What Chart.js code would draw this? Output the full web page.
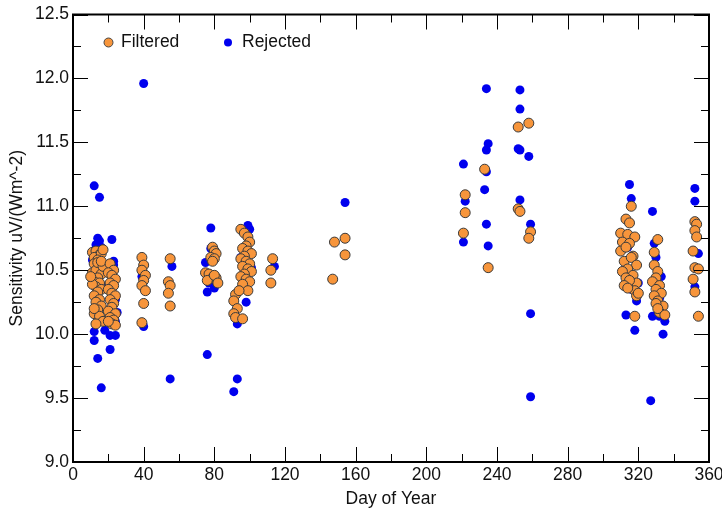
<!DOCTYPE html>
<html>
<head>
<meta charset="utf-8">
<script src="https://cdn.jsdelivr.net/npm/chart.js@4/dist/chart.umd.min.js"></script>
<style>
html,body{margin:0;padding:0;background:#fff;}
#wrap{width:722px;height:513px;position:relative;}
</style>
</head>
<body>
<div id="wrap"><canvas id="c" width="722" height="513"></canvas></div>
<script>
// ---- data ----
const xTicks = [0, 40, 80, 120, 160, 200, 240, 280, 320, 360];
const yTicks = [9.0, 9.5, 10.0, 10.5, 11.0, 11.5, 12.0, 12.5];
const seriesNames = ["Filtered", "Rejected"];

const filteredDays = [
  11,13,15,12,16,14,17,12,15,11,13,16,14,12,15,13,11,16,14,12,15,13,16,14,12,15,17,13,14,17,10,16,12,
  21,23,20,22,24,21,23,20,22,24,21,23,22,20,24,21,23,22,24,20,
  39,40,39,41,40,39,41,40,39,
  55,54,55,54,55,
  79,80,81,78,80,79,75,77,79,81,76,80,82,
  95,97,99,100,98,96,99,101,97,95,98,100,96,99,101,97,95,98,100,96,
  92,91,93,91,92,96,99,94,
  113,112,112,
  148,147,154,154,
  222,222,221,233,235,252,258,252,253,259,258,
  316,313,315,310,314,318,311,315,310,313,317,312,316,319,314,311,317,313,319,315,312,318,314,319,318,320,
  331,329,329,331,330,328,332,330,333,329,331,334,330,332,335,331,
  352,353,352,353,351,352,354,351,352,354
];
const filteredValues = [
  10.64,10.65,10.62,10.60,10.63,10.58,10.66,10.55,10.52,10.48,10.50,10.47,10.44,10.41,10.40,10.37,10.39,10.35,10.33,10.30,10.27,10.25,10.22,10.19,10.16,10.14,10.10,10.08,10.56,10.53,10.45,10.57,10.20,
  10.55,10.50,10.48,10.46,10.43,10.40,10.38,10.35,10.32,10.30,10.27,10.24,10.21,10.18,10.16,10.13,10.11,10.08,10.07,10.10,
  10.60,10.54,10.50,10.46,10.42,10.38,10.34,10.24,10.09,
  10.59,10.41,10.38,10.32,10.22,
  10.68,10.65,10.63,10.60,10.59,10.57,10.48,10.47,10.44,10.44,10.42,10.46,10.40,
  10.82,10.79,10.76,10.72,10.69,10.67,10.65,10.63,10.61,10.59,10.57,10.55,10.53,10.51,10.49,10.47,10.45,10.43,10.41,10.39,
  10.31,10.26,10.20,10.16,10.13,10.12,10.34,10.34,
  10.59,10.50,10.40,
  10.72,10.43,10.75,10.62,
  11.09,10.95,10.79,11.29,10.52,11.62,11.65,10.98,10.96,10.80,10.75,
  11.00,10.90,10.87,10.79,10.78,10.76,10.72,10.71,10.65,10.68,10.61,10.57,10.60,10.54,10.51,10.49,10.46,10.44,10.40,10.42,10.38,10.34,10.36,10.30,10.14,10.32,
  10.74,10.64,10.54,10.49,10.44,10.41,10.38,10.35,10.32,10.30,10.26,10.22,10.24,10.17,10.15,10.20,
  10.88,10.86,10.81,10.76,10.65,10.52,10.51,10.43,10.33,10.14
];

const rejectedDays = [
  12,15,14,15,22,23,23,12,12,21,24,21,14,16,13,16,11,18,13,24,25,24,18,11,
  40,40,39,
  56,55,
  78,76,80,75,76,78,77,
  99,100,98,93,93,91,95,101,
  114,
  154,154,
  234,253,253,235,234,252,253,258,221,234,233,222,253,234,259,221,235,259,259,
  315,316,328,313,329,319,313,318,328,332,335,334,327,314,312,320,316,330,333,332,
  352,352,354,352
];
const rejectedValues = [
  11.16,11.07,10.75,10.73,10.74,10.57,10.54,10.02,9.95,9.99,9.99,9.88,9.81,9.58,10.70,10.68,10.58,10.36,10.28,10.27,10.17,10.10,10.03,10.40,
  11.96,10.06,10.45,
  10.53,9.65,
  10.83,10.33,10.36,10.56,9.84,10.67,10.40,
  10.85,10.82,10.25,10.08,9.65,9.55,10.60,10.52,
  10.53,
  11.03,10.75,
  11.92,11.91,11.76,11.49,11.44,11.45,11.44,11.39,11.33,11.27,11.13,11.04,11.05,10.86,10.86,10.72,10.69,10.16,9.51,
  11.17,11.06,10.96,10.74,10.71,10.26,10.15,10.03,10.14,10.14,10.10,10.00,9.48,10.68,10.50,10.40,10.35,10.60,10.45,10.28,
  11.14,11.04,10.63,10.37
];

const ORANGE = '#F7953B';
const BLUE = '#0000EE';
const FONT = "'Liberation Sans', Arial, sans-serif";
const FS = 17.5;

function toPoints(xs, ys) { return xs.map((x, i) => ({x: x, y: ys[i]})); }

// inward ticks, frame and legend
const framePlugin = {
  id: 'frame',
  afterDraw(chart) {
    const {ctx, chartArea: a, scales: {x, y}} = chart;
    ctx.save();
    ctx.strokeStyle = '#000';
    ctx.lineWidth = 1;
    for (let v = 0; v <= 360; v += 20) {
      const px = Math.round(x.getPixelForValue(v)) + 0.5;
      const len = (v % 40 === 0) ? 15 : 8;
      ctx.beginPath();
      ctx.moveTo(px, a.bottom); ctx.lineTo(px, a.bottom - len);
      ctx.moveTo(px, a.top); ctx.lineTo(px, a.top + len);
      ctx.stroke();
    }
    for (let k = 0; k <= 14; k++) {
      const v = 9 + k * 0.25;
      const py = Math.round(y.getPixelForValue(v)) + 0.5;
      const len = (k % 2 === 0) ? 15 : 8;
      ctx.beginPath();
      ctx.moveTo(a.left, py); ctx.lineTo(a.left + len, py);
      ctx.moveTo(a.right, py); ctx.lineTo(a.right - len, py);
      ctx.stroke();
    }
    ctx.lineWidth = 2;
    ctx.strokeRect(a.left, a.top, a.right - a.left, a.bottom - a.top);

    // legend inside plot
    const ly = a.top + 28;
    ctx.font = FS + 'px ' + FONT;
    ctx.textBaseline = 'middle';
    ctx.textAlign = 'left';
    ctx.lineWidth = 1;
    ctx.beginPath();
    ctx.arc(a.left + 35.5, ly, 4.5, 0, Math.PI * 2);
    ctx.fillStyle = ORANGE; ctx.fill();
    ctx.strokeStyle = '#444'; ctx.stroke();
    ctx.fillStyle = '#111';
    ctx.fillText(seriesNames[0], a.left + 48, ly);
    ctx.beginPath();
    ctx.arc(a.left + 155, ly, 4, 0, Math.PI * 2);
    ctx.fillStyle = BLUE; ctx.fill();
    ctx.fillStyle = '#111';
    ctx.fillText(seriesNames[1], a.left + 169, ly);
    ctx.restore();
  }
};

new Chart(document.getElementById('c'), {
  type: 'scatter',
  data: {
    datasets: [
      {
        label: seriesNames[0],
        data: toPoints(filteredDays, filteredValues),
        backgroundColor: ORANGE,
        borderColor: '#3a3a3a',
        borderWidth: 1,
        pointRadius: 5,
        order: 0
      },
      {
        label: seriesNames[1],
        data: toPoints(rejectedDays, rejectedValues),
        backgroundColor: BLUE,
        borderColor: BLUE,
        borderWidth: 0,
        pointRadius: 4.5,
        order: 1
      }
    ]
  },
  options: {
    responsive: false,
    animation: false,
    devicePixelRatio: 1,
    layout: {padding: {top: 13, right: 13, left: 0, bottom: 0}},
    plugins: {legend: {display: false}, tooltip: {enabled: false}},
    scales: {
      x: {
        type: 'linear',
        min: 0, max: 360,
        afterBuildTicks: s => { s.ticks = xTicks.map(v => ({value: v})); },
        afterFit: s => { s.height = 51; s.paddingLeft = 0; s.paddingRight = 0; },
        grid: {display: false, drawTicks: false},
        border: {display: false},
        ticks: {color: '#111', font: {family: FONT, size: FS}, padding: 3, maxRotation: 0, autoSkip: false,
                callback: v => String(v)},
        title: {display: true, text: 'Day of Year', color: '#111', font: {family: FONT, size: FS}, padding: {top: 0, bottom: 3}}
      },
      y: {
        type: 'linear',
        min: 9, max: 12.5,
        afterBuildTicks: s => { s.ticks = yTicks.map(v => ({value: v})); },
        afterFit: s => { s.width = 73; },
        grid: {display: false, drawTicks: false},
        border: {display: false},
        ticks: {color: '#111', font: {family: FONT, size: FS}, padding: 4, autoSkip: false,
                callback: v => Number(v).toFixed(1)},
        title: {display: true, text: 'Sensitivity uV/(Wm^-2)', color: '#111', font: {family: FONT, size: FS}, padding: {top: 7, bottom: 0}}
      }
    }
  },
  plugins: [framePlugin]
});
</script>
</body>
</html>
